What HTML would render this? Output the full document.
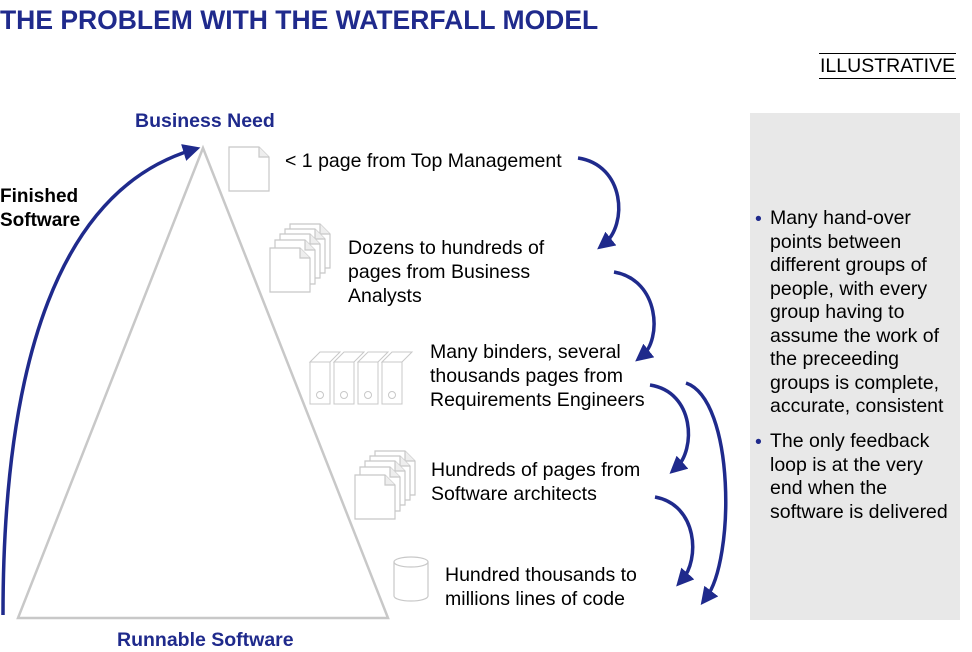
<!DOCTYPE html>
<html><head><meta charset="utf-8"><style>
body{margin:0;width:972px;height:652px;background:#fff;position:relative;overflow:hidden;font-family:"Liberation Sans",sans-serif;color:#000}
.t{position:absolute;font-size:19.5px;line-height:24px;white-space:nowrap}
.b{font-weight:bold;color:#1f2a8c}
</style></head><body>
<div class="t b" style="left:0;top:5px;font-size:26.5px;line-height:30px">THE PROBLEM WITH THE WATERFALL MODEL</div>
<div class="t" style="left:819px;top:53px;border-top:1px solid #000;border-bottom:1px solid #000;line-height:24px;padding:0 1px">ILLUSTRATIVE</div>
<div style="position:absolute;left:750px;top:113px;width:210px;height:507px;background:#e8e8e8"></div>
<div class="t" style="left:755px;top:207px"><span style="color:#1f2a8c">•</span></div>
<div class="t" style="left:770px;top:207px;line-height:23.5px">Many hand-over<br>points between<br>different groups of<br>people, with every<br>group having to<br>assume the work of<br>the preceeding<br>groups is complete,<br>accurate, consistent</div>
<div class="t" style="left:755px;top:430px"><span style="color:#1f2a8c">•</span></div>
<div class="t" style="left:770px;top:430px;line-height:23.5px">The only feedback<br>loop is at the very<br>end when the<br>software is delivered</div>
<div class="t b" style="left:135px;top:109px">Business Need</div>
<div class="t b" style="left:117px;top:628px">Runnable Software</div>
<div class="t" style="left:0;top:185px;font-weight:bold;font-size:19px">Finished<br>Software</div>
<div class="t" style="left:285px;top:149px">&lt; 1 page from Top Management</div>
<div class="t" style="left:348px;top:236px">Dozens to hundreds of<br>pages from Business<br>Analysts</div>
<div class="t" style="left:430px;top:340px">Many binders, several<br>thousands pages from<br>Requirements Engineers</div>
<div class="t" style="left:431px;top:458px">Hundreds of pages from<br>Software architects</div>
<div class="t" style="left:445px;top:563px">Hundred thousands to<br>millions lines of code</div>
<svg width="972" height="652" style="position:absolute;left:0;top:0">
<defs><marker id="a" markerWidth="5" markerHeight="5" refX="2.5" refY="2.5" orient="auto" markerUnits="strokeWidth"><path d="M0,0 L5,2.5 L0,5 Z" fill="#1f2a8c"/></marker>
<g id="pg"><path d="M0,0 H30 L40,10 V44 H0 Z" fill="#fff" stroke="#c8c8c8" stroke-width="1.2"/><path d="M30,0 V10 H40" fill="#eee" stroke="#c8c8c8" stroke-width="1.2"/></g>
<g id="bd"><path d="M0,10 L10,0 H30 L20,10 Z" fill="#fff" stroke="#c8c8c8"/><rect x="0" y="10" width="20" height="42" fill="#fff" stroke="#c8c8c8"/><circle cx="10" cy="43" r="3.5" fill="none" stroke="#c8c8c8"/></g>
</defs>
<path d="M203,148 L18,618 L388,618 Z" fill="none" stroke="#c8c8c8" stroke-width="2.5"/>
<use href="#pg" x="229" y="147"/>
<g transform="translate(270,224)"><use href="#pg" x="20" y="0"/><use href="#pg" x="15" y="5"/><use href="#pg" x="10" y="10"/><use href="#pg" x="5" y="16"/><use href="#pg" x="0" y="24"/></g>
<g transform="translate(310,352)"><use href="#bd" x="0"/><use href="#bd" x="24"/><use href="#bd" x="48"/><use href="#bd" x="72"/></g>
<g transform="translate(355,451)"><use href="#pg" x="20" y="0"/><use href="#pg" x="15" y="5"/><use href="#pg" x="10" y="10"/><use href="#pg" x="5" y="16"/><use href="#pg" x="0" y="24"/></g>
<g fill="#fff" stroke="#c8c8c8" stroke-width="1.2"><path d="M394,562 V596 A17,5 0 0 0 428,596 V562"/><ellipse cx="411" cy="562" rx="17" ry="5"/></g>
<g fill="none" stroke="#1f2a8c" stroke-width="3.5" marker-end="url(#a)">
<path d="M3,615 C3,360 60,190 192,150"/>
<path d="M578,158 C625,165 628,225 604,244"/>
<path d="M614,272 C660,280 662,340 642,356"/>
<path d="M650,385 C695,392 696,450 676,468"/>
<path d="M655,497 C698,505 700,560 682,580"/>
<path d="M686,383 C735,400 735,560 706,598"/>
</g>
</svg>
</body></html>
